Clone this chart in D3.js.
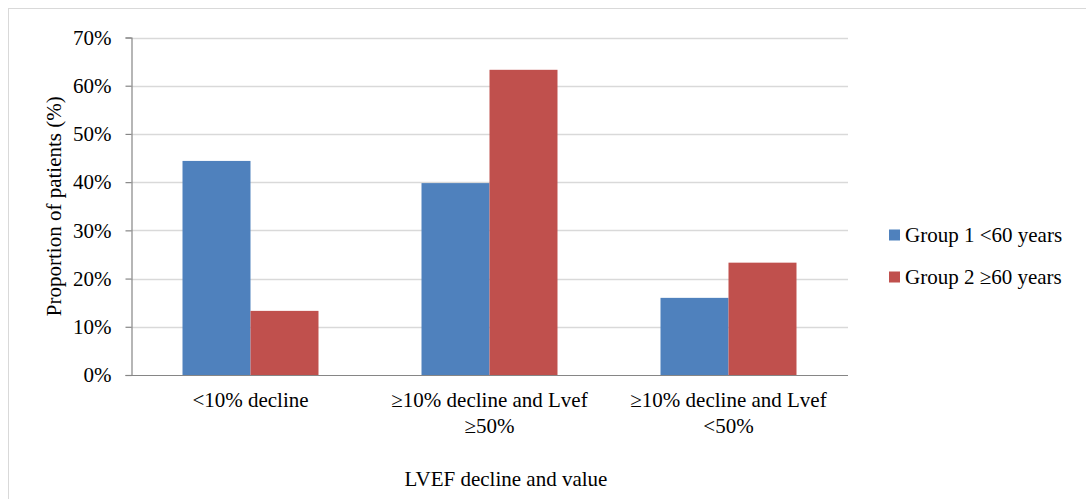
<!DOCTYPE html>
<html>
<head>
<meta charset="utf-8">
<script src="https://cdn.jsdelivr.net/npm/d3@7"></script>
<style>
  html, body { margin: 0; padding: 0; background: #fff; }
  svg { display: block; font-family: "Liberation Serif", "Times New Roman", serif; }
</style>
</head>
<body>
<svg id="chart" width="1086" height="499"></svg>
<script>
const categories = [["<10% decline"], ["≥10% decline and Lvef", "≥50%"], ["≥10% decline and Lvef", "<50%"]];
const categoryKeys = ["<10% decline", "≥10% decline and Lvef ≥50%", "≥10% decline and Lvef <50%"];
const seriesNames = ["Group 1 <60 years", "Group 2 ≥60 years"];
const group1Values = [44.4, 39.8, 16.0];
const group2Values = [13.3, 63.3, 23.3];
const yTicks = [0, 10, 20, 30, 40, 50, 60, 70];
const colors = ["#4F81BD", "#C0504D"];

const series = [group1Values, group2Values];
const svg = d3.select("#chart");
const FS = 21;

// outer border
svg.append("rect").attr("x", 8.5).attr("y", 8.5).attr("width", 1200).attr("height", 600)
  .attr("fill", "none").attr("stroke", "#D9D9D9").attr("stroke-width", 1);

const plot = { left: 131, right: 848, top: 37.5, bottom: 375 };

const x0 = d3.scaleBand().domain(categoryKeys).range([plot.left, plot.right])
  .paddingInner(0.431).paddingOuter(0.2155);
const x1 = d3.scaleBand().domain(d3.range(series.length)).range([0, x0.bandwidth()]);
const y = d3.scaleLinear().domain([0, 70]).range([plot.bottom, plot.top]);

// gridlines
svg.append("g").selectAll("line").data(yTicks.filter(d => d > 0)).join("line")
  .attr("x1", plot.left).attr("x2", plot.right)
  .attr("y1", d => Math.round(y(d)) + 0.5).attr("y2", d => Math.round(y(d)) + 0.5)
  .attr("stroke", "#D9D9D9").attr("stroke-width", 1.5);

// bars
const groups = svg.append("g").selectAll("g").data(categoryKeys).join("g")
  .attr("transform", d => `translate(${x0(d)},0)`);
groups.selectAll("rect").data((d, i) => series.map((s, j) => ({ j, v: s[i] }))).join("rect")
  .attr("x", d => x1(d.j)).attr("width", x1.bandwidth())
  .attr("y", d => y(d.v)).attr("height", d => y(0) - y(d.v))
  .attr("fill", d => colors[d.j]);

// y axis
const yAxis = d3.axisLeft(y).tickValues(yTicks).tickFormat(d => d + "%").tickSize(6).tickPadding(14);
const ya = svg.append("g").attr("transform", `translate(${plot.left + 0.5},0)`).call(yAxis);
ya.select(".domain").attr("stroke", "#868686").attr("stroke-width", 1.2);
ya.selectAll(".tick line").attr("stroke", "#868686").attr("stroke-width", 1.2);
ya.selectAll(".tick text").attr("font-size", FS).attr("fill", "#000")
  .attr("font-family", "Liberation Serif, Times New Roman, serif");

// x axis line
svg.append("line").attr("x1", plot.left).attr("x2", plot.right)
  .attr("y1", plot.bottom + 0.5).attr("y2", plot.bottom + 0.5)
  .attr("stroke", "#868686").attr("stroke-width", 1.2);

// category labels
const catText = svg.append("g").selectAll("text").data(categoryKeys).join("text")
  .attr("x", d => x0(d) + x0.bandwidth() / 2).attr("y", 407)
  .attr("text-anchor", "middle").attr("font-size", FS).attr("fill", "#000");
catText.each(function(d, i) {
  const t = d3.select(this);
  categories[i].forEach((line, k) => {
    t.append("tspan").attr("x", x0(d) + x0.bandwidth() / 2).attr("dy", k === 0 ? 0 : 26).text(line);
  });
});

// axis titles
svg.append("text").attr("x", 506).attr("y", 486).attr("text-anchor", "middle")
  .attr("font-size", FS).attr("fill", "#000").text("LVEF decline and value");
svg.append("text").attr("transform", `translate(61,${(plot.top + plot.bottom) / 2}) rotate(-90)`)
  .attr("text-anchor", "middle").attr("font-size", FS).attr("fill", "#000")
  .text("Proportion of patients (%)");

// legend
const legendY = [235, 277];
const lg = svg.append("g").selectAll("g").data(seriesNames).join("g")
  .attr("transform", (d, i) => `translate(889,${legendY[i]})`);
lg.append("rect").attr("x", 0).attr("y", -5.5).attr("width", 11).attr("height", 11)
  .attr("fill", (d, i) => colors[i]);
lg.append("text").attr("x", 16).attr("y", 7).attr("font-size", FS).attr("fill", "#000").text(d => d);
</script>
</body>
</html>
